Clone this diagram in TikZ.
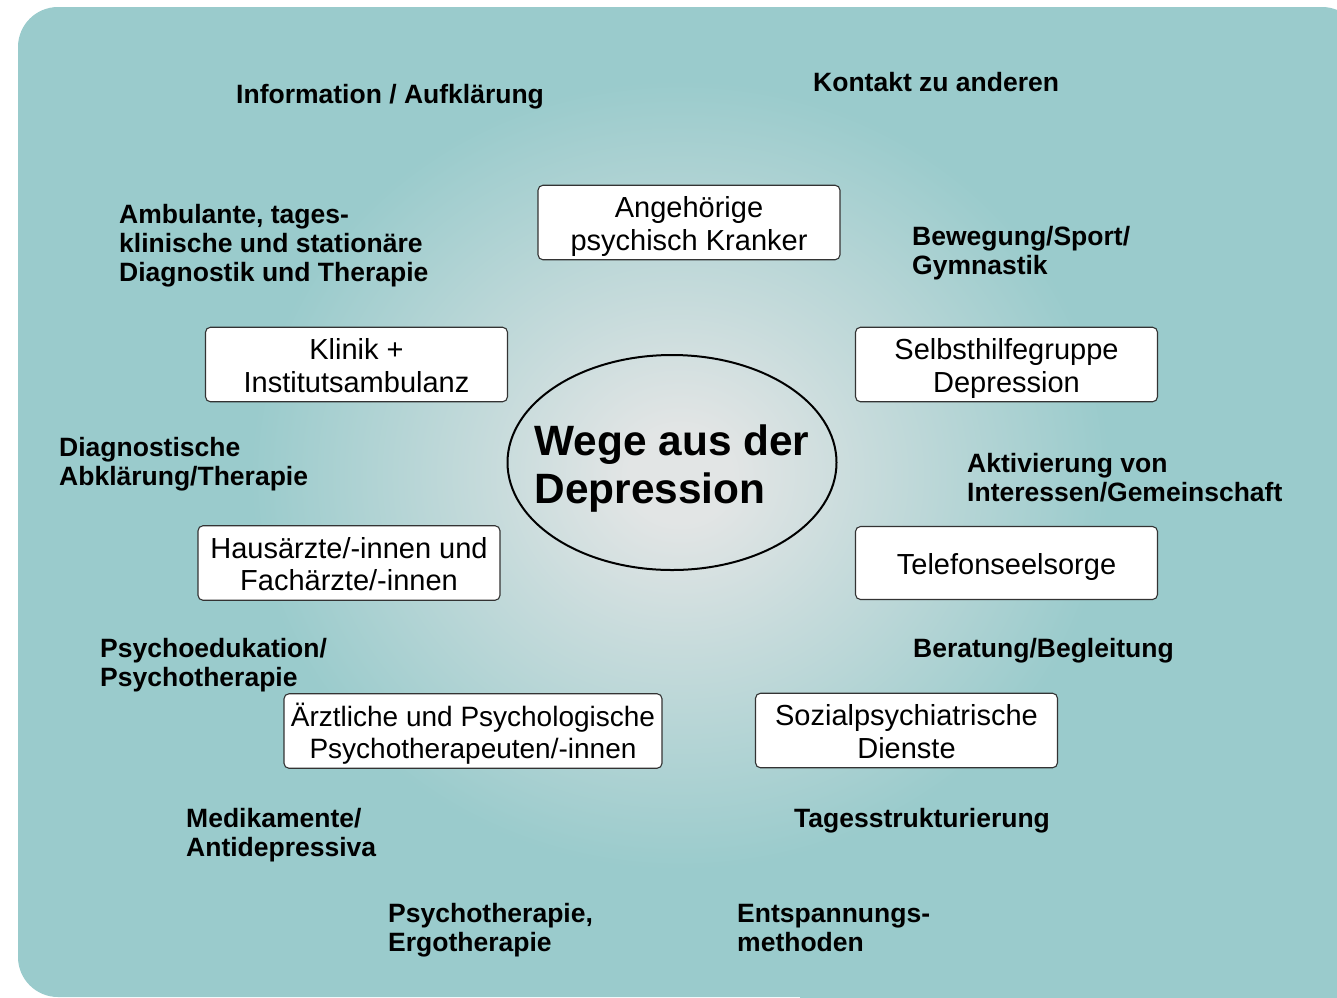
\documentclass[tikz,border=0pt]{standalone}
\usepackage{fontspec}
\setmainfont{Liberation Sans}
\usetikzlibrary{shapes.geometric}
\definecolor{tealbg}{RGB}{154,203,204}
\definecolor{glowin}{RGB}{226,229,229}
\colorlet{glowmid}{glowin!62!tealbg}
\pgfdeclareradialshading{glow}{\pgfpoint{0bp}{0bp}}{color(0bp)=(glowin); color(3bp)=(glowin); color(11bp)=(glowmid); color(25bp)=(tealbg); color(50bp)=(tealbg)}
\newcommand\bxtext[1]{\begin{tabular}{@{}c@{}}\rule{0pt}{32.3pt}#1\end{tabular}}
\newcommand\lbtext[1]{\begin{tabular}[t]{@{}l@{}}#1\end{tabular}}
\begin{document}
\begin{tikzpicture}[x=1pt,y=-1pt,
  lab/.style={anchor=base west, inner sep=0pt, font=\bfseries\fontsize{26.5}{29}\selectfont},
  bx/.style={draw=black!80, line width=1.1pt, fill=white, rounded corners=5pt,
    minimum width=302pt, minimum height=73pt, inner sep=0pt, align=center,
    font=\fontsize{29}{32.5}\selectfont},
  hub/.style={ellipse, draw=black, line width=2pt, minimum width=329pt, minimum height=215pt,
    inner xsep=-22pt, inner ysep=0pt, font=\bfseries\fontsize{42.4}{48}\selectfont}]
\useasboundingbox (0,0) rectangle (1337,997);
\begin{scope}
\clip (0,0) rectangle (1337,997);
\fill[tealbg, rounded corners=40pt] (18,7) rectangle (1362,997);
\fill[tealbg] (800,600) rectangle (1400,1100);
\shade[shading=glow] (680,475) ellipse [x radius=430, y radius=395];
\end{scope}

% boxes
\node[bx] (angeh)  at (689,222.5)  {\bxtext{Angehörige\\psychisch Kranker}};
\node[bx] (klinik) at (356.5,364.5) {\bxtext{Klinik +\\Institutsambulanz}};
\node[bx] (selbst) at (1006.5,364.5) {\bxtext{Selbsthilfegruppe\\Depression}};
\node[bx] (haus)   at (349,563)    {\bxtext{Hausärzte/-innen und\\Fachärzte/-innen}};
\node[bx] (telef)  at (1006.5,563) {\bxtext{Telefonseelsorge}};
\node[bx, minimum width=378pt, font=\fontsize{28}{32.5}\selectfont] (aerzt) at (473,731) {\bxtext{Ärztliche und Psychologische\\Psychotherapeuten/-innen}};
\node[bx] (sozial) at (906.5,730.5) {\bxtext{Sozialpsychiatrische\\Dienste}};

% centre
\node[hub] (wege) at (672,462.5) {\begin{tabular}{@{}l@{}}\rule{0pt}{47.4pt}Wege aus der\\Depression\end{tabular}};

% labels
\node[lab] (info)    at (236,103.5) {\lbtext{Information / Aufklärung}};
\node[lab] (kontakt) at (813,91.5)  {\lbtext{Kontakt zu anderen}};
\node[lab] (ambul)   at (119,223.5) {\lbtext{Ambulante, tages-\\klinische und stationäre\\Diagnostik und Therapie}};
\node[lab] (beweg)   at (912,245.5) {\lbtext{Bewegung/Sport/\\Gymnastik}};
\node[lab] (diag)    at (59,456.5)  {\lbtext{Diagnostische\\Abklärung/Therapie}};
\node[lab] (aktiv)   at (967,472.5) {\lbtext{Aktivierung von\\Interessen/Gemeinschaft}};
\node[lab] (psyedu)  at (100,657.5) {\lbtext{Psychoedukation/\\Psychotherapie}};
\node[lab] (berat)   at (913,657.5) {\lbtext{Beratung/Begleitung}};
\node[lab] (medi)    at (186,827.5) {\lbtext{Medikamente/\\Antidepressiva}};
\node[lab] (tages)   at (794,827.5) {\lbtext{Tagesstrukturierung}};
\node[lab] (psyth)   at (388,922.5) {\lbtext{Psychotherapie,\\Ergotherapie}};
\node[lab] (entsp)   at (737,922.5) {\lbtext{Entspannungs-\\methoden}};
\end{tikzpicture}
\end{document}
